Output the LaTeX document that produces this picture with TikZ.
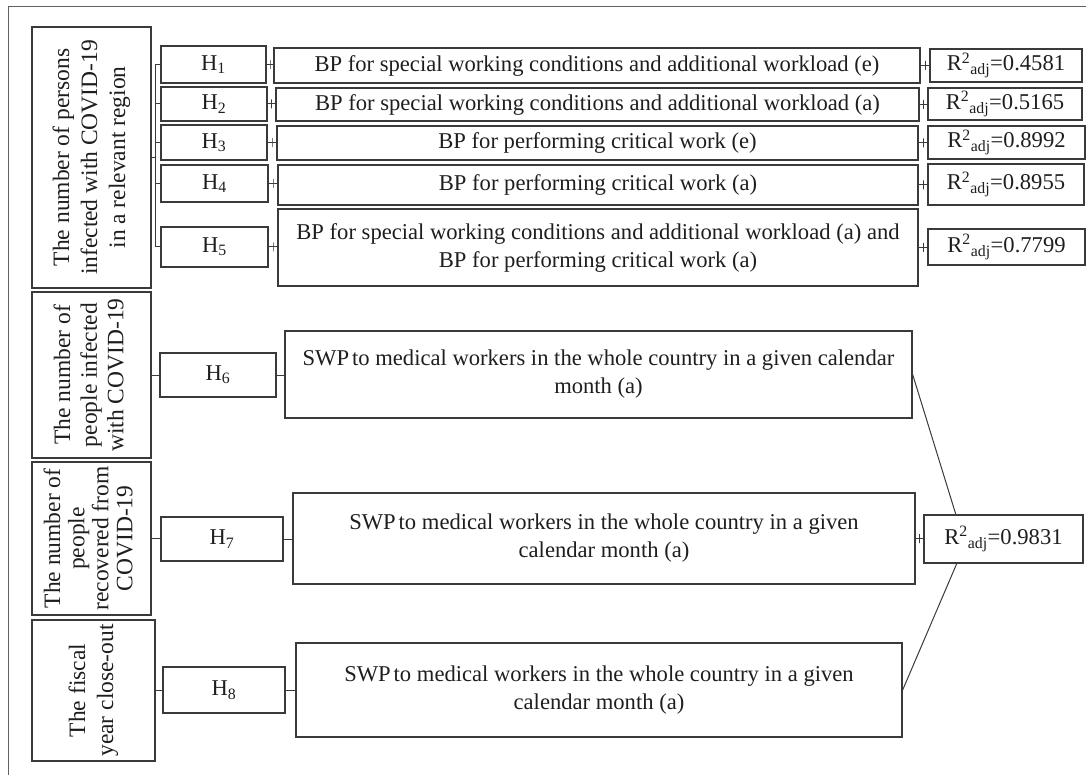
\documentclass[tikz,border=0pt]{standalone}
\usepackage{fontspec}
\setmainfont{Liberation Serif}
\definecolor{ln}{HTML}{3A3A3A}
\definecolor{tx}{HTML}{1E1E1E}
\newcommand\fs{\fontsize{22.6}{28}\selectfont}
\newcommand\rot[2][1]{\rotatebox{90}{\renewcommand\arraystretch{#1}\begin{tabular}{@{}c@{}}#2\end{tabular}}}
\newcommand\Rsq[1]{R\textsuperscript{2}\textsubscript{adj}=#1}
\newcommand\Hs[1]{H\textsubscript{#1}}
\tikzset{
  box/.style={draw=ln, line width=1.3pt, inner sep=0pt, align=center, font=\fs, text=tx},
  con/.style={draw=ln, line width=1pt},
  tickmark/.style={draw=ln, line width=1pt, shape=rectangle, minimum width=0pt, minimum height=9pt, inner sep=0pt},
}
\newcommand\bx[6]{\node[box, minimum width={(#4-#2)*1pt}, minimum height={(#5-#3)*1pt}] (#1) at ({(#2+#4)/2},{(#3+#5)/2}) {#6};}
\begin{document}
\begin{tikzpicture}[x=1pt,y=-1pt]
\useasboundingbox (0,0) rectangle (1086,775);
% open frame
\draw[draw=ln!80, line width=1pt] (8,775) -- (8,7) -- (1086,7);
% left category boxes
\bx{L1}{32}{27}{151}{288}{\fontsize{23.5}{28}\selectfont\rot{The number of persons\\infected with  COVID-19\\in a relevant  region}}
\bx{L2}{32}{292}{151}{458}{\fontsize{23.5}{28}\selectfont\rot[0.95]{The number of\\people infected\\with  COVID-19}}
\bx{L3}{32}{462}{151}{615}{\fontsize{23.5}{28}\selectfont\rot[0.86]{The number of\\people\\recovered from\\COVID-19}}
\bx{L4}{32}{620}{155}{761}{\fontsize{23.5}{28}\selectfont\rot{The fiscal\\year close-out}}
% hypotheses
\bx{H1}{161}{46}{266}{83}{\Hs{1}}
\bx{H2}{161}{87}{267}{121}{\Hs{2}}
\bx{H3}{161}{125}{267}{160}{\Hs{3}}
\bx{H4}{161}{165}{268}{202}{\Hs{4}}
\bx{H5}{161}{227}{268}{267}{\Hs{5}}
\bx{H6}{160}{353}{276}{397}{\Hs{6}}
\bx{H7}{161}{517}{283}{561}{\Hs{7}}
\bx{H8}{163}{667}{285}{713}{\Hs{8}}
% payments
\bx{BP1}{274}{48}{920}{83}{BP for special working conditions and additional workload (e)}
\bx{BP2}{276}{88}{919}{121}{BP for special working conditions and additional workload (a)}
\bx{BP3}{277}{126}{918}{160}{BP for performing critical work (e)}
\bx{BP4}{278}{165}{918}{205}{BP for performing critical work (a)}
\bx{BP5}{278}{209}{918}{286}{BP for special working conditions and additional workload (a) and\\BP for performing critical work (a)}
\bx{BP6}{285}{331}{912}{418}{SWP\kern3pt to medical workers in the whole country in a given calendar\\month (a)}
\bx{BP7}{293}{493}{915}{584}{SWP\kern3pt to medical workers in the whole country in a given\\calendar month (a)}
\bx{BP8}{296}{643}{902}{737}{SWP\kern3pt to medical workers in the whole country in a given\\calendar month (a)}
% results
\bx{R1}{930}{49}{1082}{82}{\Rsq{0.4581}}
\bx{R2}{928}{88}{1082}{120}{\Rsq{0.5165}}
\bx{R3}{928}{126}{1085}{159}{\Rsq{0.8992}}
\bx{R4}{928}{164}{1084}{205}{\Rsq{0.8955}}
\bx{R5}{928}{229}{1085}{265}{\Rsq{0.7799}}
\bx{R6}{924}{515}{1083}{563}{\Rsq{0.9831}}
% bracket from L1 to H1..H5
\coordinate (br) at (155,0);
\draw[con] (L1.east) -- (L1.east -| br);
\draw[con] (H1.west) -- (H1.west -| br) -- (H5.west -| br) -- (H5.west);
\draw[con] (H2.west) -- (H2.west -| br);
\draw[con] (H3.west) -- (H3.west -| br);
\draw[con] (H4.west) -- (H4.west -| br);
% H -> BP -> R, rows 1..5
\foreach \i in {1,...,5}{
  \draw[con] (H\i.east) -- node[tickmark]{} (H\i.east -| BP\i.west);
  \draw[con] (BP\i.east) -- node[tickmark]{} (BP\i.east -| R\i.west);
}
% lower rows
\draw[con] (L2.east) -- (L2.east -| H6.west);
\draw[con] (L3.east) -- (L3.east -| H7.west);
\draw[con] (L4.east) -- (L4.east -| H8.west);
\draw[con] (H6.east) -- (H6.east -| BP6.west);
\draw[con] (H7.east) -- (H7.east -| BP7.west);
\draw[con] (H8.east) -- (H8.east -| BP8.west);
\coordinate (r6top) at (956,515);
\coordinate (r6bot) at (957,563);
\draw[con] (BP6.east) -- (r6top);
\draw[con] (BP7.east) -- node[tickmark]{} (BP7.east -| R6.west);
\draw[con] (BP8.east) -- (r6bot);
\end{tikzpicture}
\end{document}
